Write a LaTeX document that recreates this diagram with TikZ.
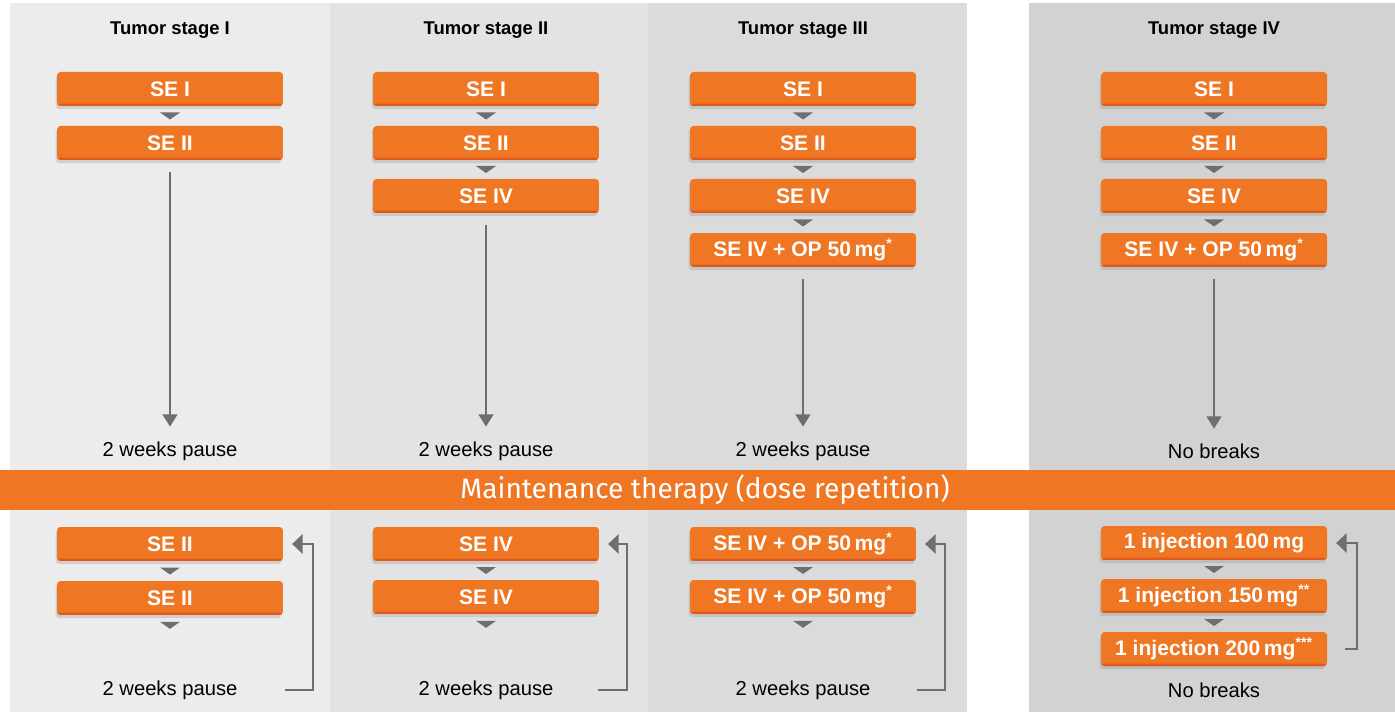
\documentclass[tikz,border=0pt]{standalone}
\usepackage{fontspec}
\setmainfont{Liberation Sans}
\newfontfamily\bandfont{Fira Sans}
\usetikzlibrary{calc,arrows.meta,shadows}
\definecolor{pan1}{HTML}{ECECEC}
\definecolor{pan2}{HTML}{E3E3E3}
\definecolor{pan3}{HTML}{DBDBDB}
\definecolor{pan4}{HTML}{D1D2D1}
\definecolor{boxorange}{HTML}{EF7623}
\definecolor{boxdark}{HTML}{E0581A}
\definecolor{arrowgray}{HTML}{6E6E6E}
\tikzset{
  sebox/.style={rounded corners=2pt,fill=boxorange,text=white,font=\fontsize{12}{14}\selectfont\bfseries,
    minimum width=4.52cm,minimum height=0.68cm,inner sep=0pt,
    drop shadow={shadow xshift=-0.8pt,shadow yshift=-1.8pt,opacity=0.25},
    path picture={\fill[boxdark] (path picture bounding box.south west) rectangle ([yshift=1.4pt]path picture bounding box.south east);}},
  head/.style={font=\fontsize{10.5}{12}\selectfont\bfseries},
  lbl/.style={font=\fontsize{11.5}{13}\selectfont},
  longarr/.style={draw=arrowgray,line width=1.1pt,-{Triangle[width=8.5pt,length=7pt]},shorten <=6.5pt,shorten >=5pt},
  backarr/.style={draw=arrowgray,line width=1.2pt,-{Triangle[width=11pt,length=6pt]}}
}
\newcommand\tri[1]{\fill[arrowgray] (#1) ++(-10,-3.5) -- ++(20,0) -- ++(-10,7) -- cycle;}
\begin{document}
\begin{tikzpicture}[x=0.02cm,y=-0.02cm]
\useasboundingbox (0,0) rectangle (1395,712);
% panels
\fill[pan1] (10,3) rectangle (330,712);
\fill[pan2] (330,3) rectangle (648,712);
\fill[pan3] (648,3) rectangle (967,712);
\fill[pan4] (1029,3) rectangle (1395,712);
% band
\fill[boxorange] (0,470) rectangle (1395,510);
\node[text=white,font=\bandfont\fontsize{16}{18}\selectfont] (band) at (705,490) {Maintenance therapy (dose repetition)};

% headers
\node[head] (h1) at (170,30) {Tumor stage I};
\node[head] (h2) at (486,30) {Tumor stage II};
\node[head] (h3) at (803,30) {Tumor stage III};
\node[head] (h4) at (1214,30) {Tumor stage IV};

% stage I
\node[sebox] (a1) at (170,89) {SE I};
\node[sebox] (a2) at (170,143) {SE II};
\node[lbl] (la) at (170,451) {2 weeks pause};
\tri{$(a1.south)!.5!(a2.north)$}
\draw[longarr] (a2) -- (la);

% stage II
\node[sebox] (b1) at (486,89) {SE I};
\node[sebox] (b2) at (486,143) {SE II};
\node[sebox] (b3) at (486,196) {SE IV};
\node[lbl] (lb) at (486,451) {2 weeks pause};
\tri{$(b1.south)!.5!(b2.north)$}
\tri{$(b2.south)!.5!(b3.north)$}
\draw[longarr] (b3) -- (lb);

% stage III
\node[sebox] (c1) at (803,89) {SE I};
\node[sebox] (c2) at (803,143) {SE II};
\node[sebox] (c3) at (803,196) {SE IV};
\node[sebox] (c4) at (803,250) {SE IV + OP 50\,mg\textsuperscript{*}};
\node[lbl] (lc) at (803,451) {2 weeks pause};
\tri{$(c1.south)!.5!(c2.north)$}
\tri{$(c2.south)!.5!(c3.north)$}
\tri{$(c3.south)!.5!(c4.north)$}
\draw[longarr] (c4) -- (lc);

% stage IV
\node[sebox] (d1) at (1214,89) {SE I};
\node[sebox] (d2) at (1214,143) {SE II};
\node[sebox] (d3) at (1214,196) {SE IV};
\node[sebox] (d4) at (1214,250) {SE IV + OP 50\,mg\textsuperscript{*}};
\node[lbl] (ld) at (1214,451) {No breaks};
\tri{$(d1.south)!.5!(d2.north)$}
\tri{$(d2.south)!.5!(d3.north)$}
\tri{$(d3.south)!.5!(d4.north)$}
\draw[longarr] (d4) -- (ld);

% maintenance, stage I
\node[sebox] (m1) at (170,544) {SE II};
\node[sebox] (m2) at (170,598) {SE II};
\node[lbl] (lm) at (170,690) {2 weeks pause};
\tri{$(m1.south)!.5!(m2.north)$}
\tri{$(m2.south)+(0,10)$}
\draw[backarr] ([xshift=23.7pt]lm.east) -- ++(28,0) |- ([xshift=5pt]m1.east);

% maintenance, stage II
\node[sebox] (n1) at (486,544) {SE IV};
\node[sebox] (n2) at (486,597) {SE IV};
\node[lbl] (ln) at (486,690) {2 weeks pause};
\tri{$(n1.south)!.5!(n2.north)$}
\tri{$(n2.south)+(0,10)$}
\draw[backarr] ([xshift=22pt]ln.east) -- ++(29,0) |- ([xshift=5pt]n1.east);

% maintenance, stage III
\node[sebox] (o1) at (803,544) {SE IV + OP 50\,mg\textsuperscript{*}};
\node[sebox] (o2) at (803,597) {SE IV + OP 50\,mg\textsuperscript{*}};
\node[lbl] (lo) at (803,690) {2 weeks pause};
\tri{$(o1.south)!.5!(o2.north)$}
\tri{$(o2.south)+(0,10)$}
\draw[backarr] ([xshift=23pt]lo.east) -- ++(28,0) |- ([xshift=5pt]o1.east);

% maintenance, stage IV
\node[sebox] (p1) at (1214,543) {1 injection 100\,mg};
\node[sebox] (p2) at (1214,596) {1 injection 150\,mg\textsuperscript{**}};
\node[sebox] (p3) at (1214,649) {1 injection 200\,mg\textsuperscript{***}};
\node[lbl] (lp) at (1214,690) {No breaks};
\tri{$(p1.south)!.5!(p2.north)$}
\tri{$(p2.south)!.5!(p3.north)$}
\draw[backarr] ([xshift=10pt]p3.east) -- ++(12,0) |- ([xshift=5pt]p1.east);
\end{tikzpicture}
\end{document}
